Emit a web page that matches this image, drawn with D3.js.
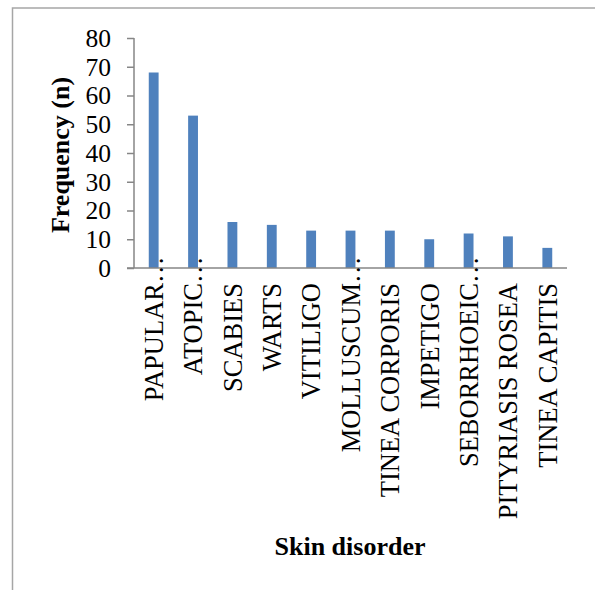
<!DOCTYPE html>
<html>
<head>
<meta charset="utf-8">
<script src="https://cdn.jsdelivr.net/npm/d3@7"></script>
<style>
  body { margin: 0; background: #fff; }
  svg { display: block; }
</style>
</head>
<body>
<div id="chart"></div>
<script>
// Chart data
var categories = ["PAPULAR…", "ATOPIC…", "SCABIES", "WARTS", "VITILIGO", "MOLLUSCUM…",
  "TINEA CORPORIS", "IMPETIGO", "SEBORRHOEIC…", "PITYRIASIS ROSEA", "TINEA CAPITIS"];
var frequency = [68, 53, 16, 15, 13, 13, 13, 10, 12, 11, 7];
var yTicks = [0, 10, 20, 30, 40, 50, 60, 70, 80];

var svgWidth = 595;
var svgHeight = 590;

var margin = {top: 38, left: 134, right: 28, bottom: 322};
var width = svgWidth - margin.left - margin.right;
var height = svgHeight - margin.top - margin.bottom;

var svg = d3.select("#chart")
  .append("svg")
  .attr("width", svgWidth)
  .attr("height", svgHeight);

// outer frame (only left and top edges are visible)
svg.append("rect")
  .attr("x", 12.5)
  .attr("y", 8)
  .attr("width", 800)
  .attr("height", 800)
  .attr("fill", "none")
  .attr("stroke", "#a6a6a6")
  .attr("stroke-width", 1.5);

var chartGroup = svg.append("g")
  .attr("transform", `translate(${margin.left}, ${margin.top})`);

// scales
var xScale = d3.scaleBand()
  .domain(categories)
  .range([0, width])
  .paddingInner(0.75)
  .paddingOuter(0.375);

var yScale = d3.scaleLinear()
  .domain([0, 80])
  .range([height, 0]);

// bars
chartGroup.selectAll("rect.bar")
  .data(frequency)
  .enter()
  .append("rect")
  .attr("class", "bar")
  .attr("x", (d, i) => xScale(categories[i]))
  .attr("y", d => yScale(d))
  .attr("width", xScale.bandwidth())
  .attr("height", d => height - yScale(d))
  .attr("fill", "#4f81bd");

// y axis
var yAxis = d3.axisLeft(yScale)
  .tickValues(yTicks)
  .tickSize(7)
  .tickPadding(16);

var yG = chartGroup.append("g").call(yAxis);
yG.select(".domain").attr("stroke", "#868686").attr("stroke-width", 1.5)
  .attr("d", `M0,${height}V0`);
yG.selectAll(".tick line").attr("stroke", "#868686").attr("stroke-width", 1.5);
yG.selectAll(".tick text")
  .style("font-family", "'Liberation Serif', 'Times New Roman', serif")
  .style("font-size", "25.5px")
  .attr("fill", "#000")
  .attr("dy", "0.33em");

// x axis line
var xG = chartGroup.append("g")
  .attr("transform", `translate(0, ${height})`)
  .call(d3.axisBottom(xScale).tickSize(0).tickFormat(""));
xG.select(".domain").attr("stroke", "#868686").attr("stroke-width", 1.5)
  .attr("d", `M-7,0H${width}`);

// category labels, rotated
var labelTop = 15;
var labels = chartGroup.append("g").attr("transform", `translate(0, ${height})`);
categories.forEach(function (c, i) {
  var cx = xScale(c) + xScale.bandwidth() / 2;
  var cut = c.endsWith("…");
  var name = cut ? c.slice(0, -1) : c;
  var g = labels.append("g")
    .attr("transform", `translate(${cx}, ${labelTop}) rotate(-90)`)
    .style("font-family", "'Liberation Serif', 'Times New Roman', serif")
    .style("font-size", "26.5px");
  g.append("text")
    .attr("text-anchor", "end")
    .attr("dy", "0.35em")
    .text(name);
  if (cut) {
    g.append("text")
      .attr("text-anchor", "start")
      .attr("dy", "0.35em")
      .text("…");
  }
});

// axis titles
svg.append("text")
  .attr("transform", `translate(69, ${margin.top + height / 2 + 2}) rotate(-90)`)
  .attr("text-anchor", "middle")
  .style("font-family", "'Liberation Serif', 'Times New Roman', serif")
  .style("font-weight", "bold")
  .style("font-size", "26px")
  .text("Frequency (n)");

svg.append("text")
  .attr("x", 350)
  .attr("y", 555)
  .attr("text-anchor", "middle")
  .style("font-family", "'Liberation Serif', 'Times New Roman', serif")
  .style("font-weight", "bold")
  .style("font-size", "26px")
  .text("Skin disorder");
</script>
</body>
</html>
